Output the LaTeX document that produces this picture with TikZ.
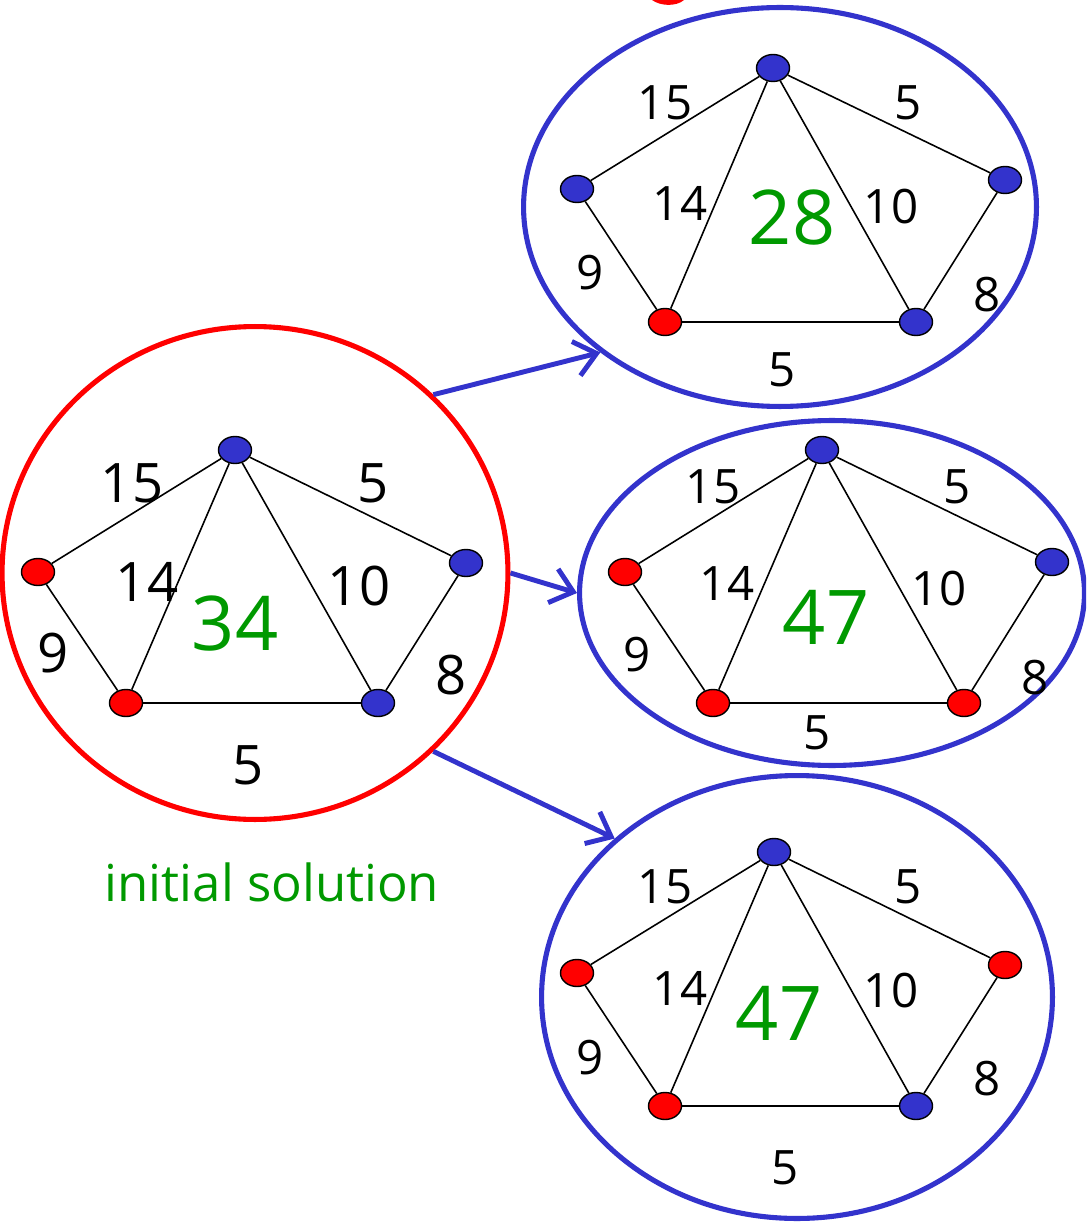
\documentclass[tikz,border=0pt]{standalone}
\usepackage{fontspec}
\setmainfont{Open Sans}
\usetikzlibrary{shapes.geometric,arrows.meta}
\definecolor{nblue}{RGB}{51,51,204}
\definecolor{nred}{RGB}{255,0,0}
\definecolor{ngreen}{RGB}{0,153,0}
\tikzset{
  vb/.style={ellipse,draw=black,line width=0.8pt,fill=nblue,minimum width=0.66cm,minimum height=0.54cm,inner sep=0pt},
  vr/.style={vb,fill=nred},
  edge/.style={draw=black,line width=0.9pt},
  wbig/.style={font=\fontsize{31}{31}\selectfont,inner sep=0pt},
  wsmall/.style={font=\fontsize{27}{27}\selectfont,inner sep=0pt},
  costbig/.style={font=\fontsize{43}{43}\selectfont,text=ngreen,inner sep=0pt},
  frameb/.style={draw=nblue,line width=2.9pt},
  framer/.style={draw=nred,line width=2.9pt},
  move/.style={draw=nblue,line width=2.8pt,-{Straight Barb[length=12pt,width=20pt,line width=2.8pt]}},
}
\begin{document}
\begin{tikzpicture}[x=0.02cm,y=-0.02cm]
\useasboundingbox (0,0) rectangle (1086,1222);
\begin{scope}
\clip (0,0) rectangle (1086,1222);
% red fragment of cut-off title
\fill[nred] (652,0) .. controls (660,6) and (676,7) .. (684,0) -- cycle;
% ---- left graph (initial solution)
\node[ellipse,framer,minimum width=10.12cm,minimum height=9.86cm,inner sep=0pt] (F0) at (255,573) {};
\node[vb] (a1) at (235,450) {};
\node[vr] (a2) at (38,572) {};
\node[vb] (a3) at (466,563) {};
\node[vr] (a4) at (126,703) {};
\node[vb] (a5) at (378,703) {};
\draw[edge] (a1)--(a2) (a1)--(a3) (a1)--(a4) (a1)--(a5) (a2)--(a4) (a3)--(a5) (a4)--(a5);
\node[wbig] (l15a) at (132,483) {15};
\node[wbig] (l5a) at (373,483) {5};
\node[wbig] (l14a) at (147,582) {14};
\node[wbig] (l10a) at (359,586) {10};
\node[wbig] (l9a) at (53,653) {9};
\node[wbig] (l8a) at (451,675) {8};
\node[wbig] (l5b) at (248,765) {5};
\node[costbig] (ca) at (235,624) {34};
\node[font=\fontsize{29}{29}\selectfont,text=ngreen,inner sep=0pt] (init) at (272,882) {initial solution};
% ---- top right graph
\node[ellipse,frameb,minimum width=10.26cm,minimum height=7.98cm,inner sep=0pt] (F1) at (780,207) {};
\node[vb] (b1) at (773,68) {};
\node[vb] (b2) at (577,189) {};
\node[vb] (b3) at (1005,180) {};
\node[vr] (b4) at (665,322) {};
\node[vb] (b5) at (916,322) {};
\draw[edge] (b1)--(b2) (b1)--(b3) (b1)--(b4) (b1)--(b5) (b2)--(b4) (b3)--(b5) (b4)--(b5);
\node[wsmall] (l15b) at (665,103) {15};
\node[wsmall] (l5c) at (908,103) {5};
\node[wsmall] (l14b) at (680,203) {14};
\node[wsmall] (l10b) at (891,207) {10};
\node[wsmall] (l9b) at (590,273) {9};
\node[wsmall] (l8b) at (987,295) {8};
\node[wsmall] (l5d) at (782,370) {5};
\node[costbig] (cb) at (792,218) {28};
% ---- middle right graph
\node[ellipse,frameb,minimum width=10.1cm,minimum height=6.9cm,inner sep=0pt] (F2) at (832,593) {};
\node[vb] (c1) at (822,450) {};
\node[vr] (c2) at (625,572) {};
\node[vb] (c3) at (1052,562) {};
\node[vr] (c4) at (713,703) {};
\node[vr] (c5) at (964,703) {};
\draw[edge] (c1)--(c2) (c1)--(c3) (c1)--(c4) (c1)--(c5) (c2)--(c4) (c3)--(c5) (c4)--(c5);
\node[wsmall] (l15c) at (713,487) {15};
\node[wsmall] (l5e) at (957,487) {5};
\node[wsmall] (l14c) at (727,583) {14};
\node[wsmall] (l10c) at (939,589) {10};
\node[wsmall] (l9c) at (637,655) {9};
\node[wsmall] (l8c) at (1035,678) {8};
\node[wsmall] (l5f) at (817,733) {5};
\node[costbig] (cc) at (826,617) {47};
% ---- bottom right graph
\node[ellipse,frameb,minimum width=10.22cm,minimum height=8.86cm,inner sep=0pt] (F3) at (797,997) {};
\node[vb] (d1) at (774,852) {};
\node[vr] (d2) at (577,973) {};
\node[vr] (d3) at (1005,965) {};
\node[vr] (d4) at (665,1106) {};
\node[vb] (d5) at (916,1106) {};
\draw[edge] (d1)--(d2) (d1)--(d3) (d1)--(d4) (d1)--(d5) (d2)--(d4) (d3)--(d5) (d4)--(d5);
\node[wsmall] (l15d) at (665,887) {15};
\node[wsmall] (l5g) at (908,887) {5};
\node[wsmall] (l14d) at (680,988) {14};
\node[wsmall] (l10d) at (891,991) {10};
\node[wsmall] (l9d) at (590,1058) {9};
\node[wsmall] (l8d) at (987,1079) {8};
\node[wsmall] (l5h) at (785,1168) {5};
\node[costbig] (cd) at (779,1013) {47};
% ---- moves
\draw[move] (F0.45) -- (F1.219);
\draw[move] (F0.east) -- (F2.west);
\draw[move] (F0.-45) -- (F3.139);
\end{scope}
\end{tikzpicture}
\end{document}
